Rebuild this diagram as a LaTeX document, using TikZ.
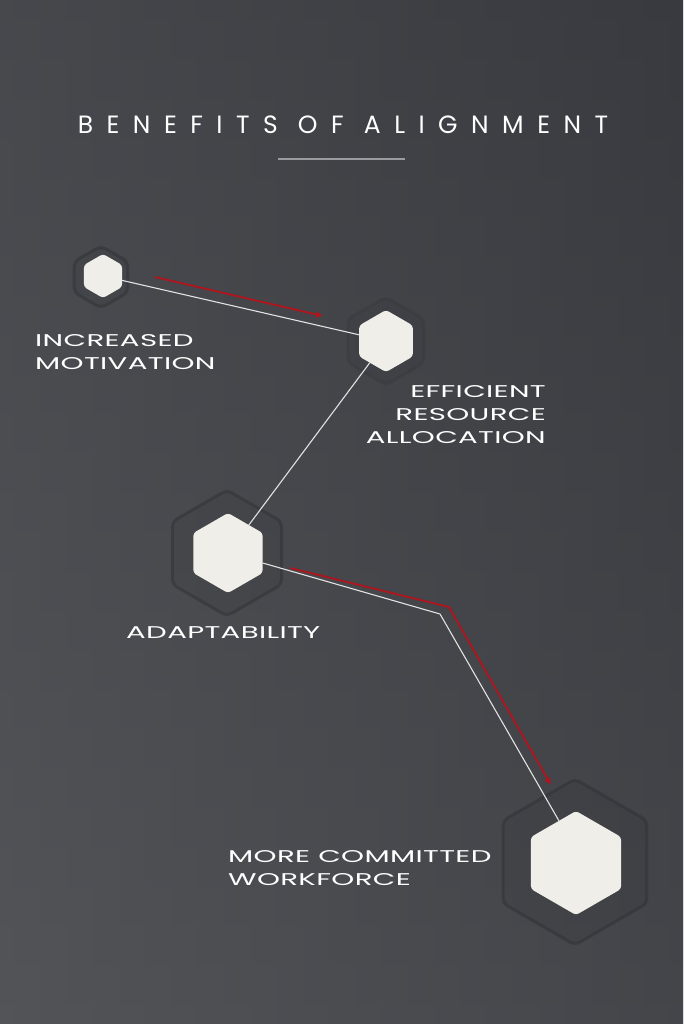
\documentclass[tikz,border=0pt]{standalone}
\usepackage{fontspec}
\setmainfont{Poppins}
\newfontfamily\titlefont[LetterSpace=54]{Poppins}
\newfontfamily\labelfont[FakeStretch=1.72,LetterSpace=2]{Poppins}
\usetikzlibrary{shapes.geometric,arrows.meta}
\definecolor{bgL}{HTML}{535458}
\definecolor{bgR}{HTML}{393A3F}
\definecolor{hexfill}{HTML}{EFEEE8}
\definecolor{shadowhex}{HTML}{2E2F33}
\definecolor{redline}{HTML}{B0141C}
\definecolor{linkline}{HTML}{E2E2E2}
\definecolor{rulegray}{HTML}{9A9B9E}
\tikzset{
  hexnode/.style={regular polygon, regular polygon sides=6, shape border rotate=30,
    fill=hexfill, inner sep=0pt, outer sep=0pt, rounded corners=3pt, minimum size=#1},
  hexshadow/.style={regular polygon, regular polygon sides=6, shape border rotate=30,
    fill=black, fill opacity=0.05, draw=shadowhex, draw opacity=0.45, line width=3pt,
    inner sep=0pt, rounded corners=5pt, minimum size=#1},
  link/.style={draw=linkline, line width=1.1pt},
  redarrow/.style={draw=redline, line width=1.8pt},
  lbl/.style={text=white, font=\labelfont\fontsize{17}{23}\selectfont, inner sep=0pt},
}
\begin{document}
\begin{tikzpicture}[x=1pt,y=-1pt]
\useasboundingbox (0,0) rectangle (683,1024);
\shade[left color=bgL, right color=bgR] (0,0) rectangle (683,1024);
\shade[top color=bgR, bottom color=bgL, opacity=0.45] (0,0) rectangle (683,1024);

% title
\node[text=white, font=\titlefont\fontsize{25}{30}\selectfont, inner sep=0pt] (title) at (343,125) {BENEFITS OF ALIGNMENT};
\draw[rulegray, line width=1.6pt] (278,159) coordinate (r1) -- (405,159) coordinate (r2);

% shadow hexagons
\node[hexshadow=62pt] (s1) at (101,277) {};
\node[hexshadow=88pt, draw opacity=0.2, fill opacity=0.03] (s2) at (386,341) {};
\node[hexshadow=126pt] (s3) at (227,553) {};
\node[hexshadow=166pt] (s4) at (575,862) {};

% hexagons
\node[hexnode=44pt] (h1) at (103,276) {};
\node[hexnode=62pt] (h2) at (386,341) {};
\node[hexnode=80pt] (h3) at (228,553) {};
\node[hexnode=104pt] (h4) at (576,863) {};

% connectors
\coordinate (bend) at (440,614);
\path[link] (h1) -- (h2);
\path[link] (h2) -- (h3);
\path[link] (h3) -- (bend) -- (h4.112);

% red arrows
\coordinate (ra1) at (155,277);
\coordinate (ra2) at (323,316);
\coordinate (rb1) at (290,568);
\coordinate (rb2) at (449,607);
\coordinate (rb3) at (551,785);
\draw[redarrow, -{Latex[length=7pt,width=7pt]}] (ra1) -- (ra2);
\draw[redarrow, -{Latex[length=7pt,width=7pt]}] (rb1) -- (rb2) -- (rb3);

% labels
\node[lbl, anchor=west, align=left] (l1) at (35,352) {INCREASED\\MOTIVATION};
\node[lbl, anchor=east, align=right] (l2) at (546,415) {EFFICIENT\\RESOURCE\\ALLOCATION};
\node[lbl, anchor=west] (l3) at (126,633) {ADAPTABILITY};
\node[lbl, anchor=west, align=left] (l4) at (228,868) {MORE COMMITTED\\WORKFORCE};
\end{tikzpicture}
\end{document}
